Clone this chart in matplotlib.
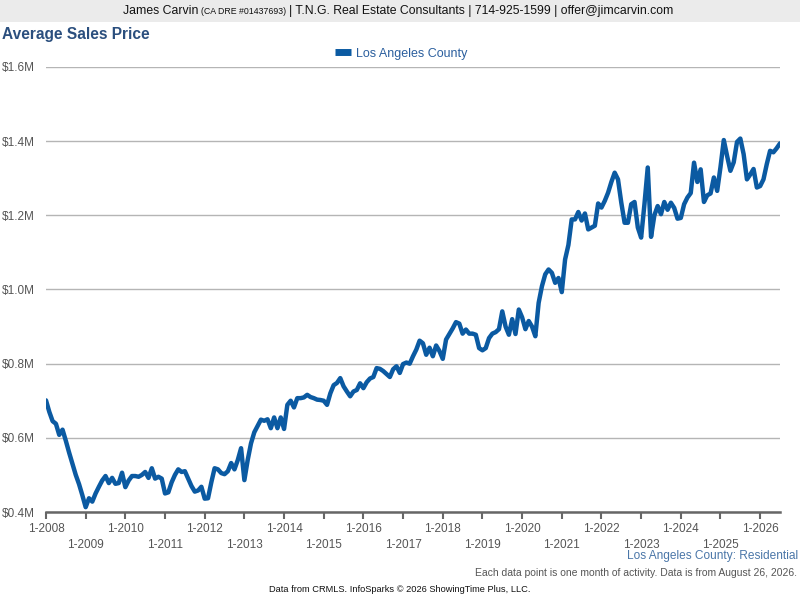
import matplotlib
matplotlib.use("Agg")
import matplotlib.pyplot as plt
from matplotlib.patches import Rectangle

plt.rcParams['font.family'] = ['Liberation Sans', 'DejaVu Sans']

# monthly average sales price ($M), Jan 2008 .. Jul 2026
y2008 = [0.701, 0.670, 0.645, 0.638, 0.608, 0.622, 0.592, 0.560, 0.530, 0.500, 0.475, 0.445]
y2009 = [0.413, 0.437, 0.428, 0.450, 0.468, 0.485, 0.497, 0.478, 0.492, 0.476, 0.478, 0.506]
y2010 = [0.467, 0.485, 0.497, 0.497, 0.495, 0.500, 0.508, 0.492, 0.518, 0.490, 0.495, 0.490]
y2011 = [0.450, 0.453, 0.480, 0.500, 0.515, 0.508, 0.510, 0.490, 0.470, 0.455, 0.458, 0.468]
y2012 = [0.436, 0.437, 0.480, 0.518, 0.515, 0.505, 0.502, 0.510, 0.532, 0.515, 0.540, 0.572]
y2013 = [0.486, 0.540, 0.585, 0.615, 0.632, 0.649, 0.646, 0.650, 0.626, 0.655, 0.626, 0.655]
y2014 = [0.624, 0.689, 0.700, 0.682, 0.707, 0.707, 0.709, 0.716, 0.710, 0.707, 0.703, 0.702]
y2015 = [0.700, 0.689, 0.720, 0.742, 0.748, 0.761, 0.739, 0.725, 0.712, 0.725, 0.729, 0.747]
y2016 = [0.734, 0.750, 0.760, 0.764, 0.788, 0.786, 0.780, 0.772, 0.764, 0.785, 0.793, 0.775]
y2017 = [0.799, 0.803, 0.800, 0.820, 0.838, 0.862, 0.855, 0.824, 0.843, 0.820, 0.849, 0.834]
y2018 = [0.813, 0.865, 0.880, 0.895, 0.912, 0.908, 0.881, 0.892, 0.881, 0.881, 0.878, 0.842]
y2019 = [0.836, 0.842, 0.869, 0.881, 0.885, 0.893, 0.941, 0.900, 0.878, 0.920, 0.880, 0.946]
y2020 = [0.925, 0.893, 0.915, 0.900, 0.874, 0.964, 1.009, 1.041, 1.054, 1.045, 1.018, 1.031]
y2021 = [0.993, 1.081, 1.120, 1.189, 1.189, 1.209, 1.186, 1.205, 1.162, 1.167, 1.172, 1.232]
y2022 = [1.221, 1.239, 1.261, 1.290, 1.315, 1.297, 1.234, 1.180, 1.180, 1.230, 1.236, 1.167]
y2023 = [1.140, 1.230, 1.329, 1.142, 1.200, 1.225, 1.203, 1.236, 1.215, 1.234, 1.220, 1.191]
y2024 = [1.193, 1.230, 1.248, 1.260, 1.342, 1.290, 1.324, 1.236, 1.254, 1.259, 1.302, 1.266]
y2025 = [1.330, 1.403, 1.360, 1.320, 1.343, 1.398, 1.407, 1.365, 1.297, 1.310, 1.325, 1.275]
y2026 = [1.279, 1.297, 1.338, 1.374, 1.370, 1.381, 1.394]

prices = (y2008 + y2009 + y2010 + y2011 + y2012 + y2013 + y2014 + y2015 + y2016
          + y2017 + y2018 + y2019 + y2020 + y2021 + y2022 + y2023 + y2024 + y2025 + y2026)
years = list(range(2008, 2027))
y_ticks = [0.4, 0.6, 0.8, 1.0, 1.2, 1.4, 1.6]
y_labels = ['$0.4M', '$0.6M', '$0.8M', '$1.0M', '$1.2M', '$1.4M', '$1.6M']

blue = '#0b5aa2'
gray_txt = '#555555'

fig = plt.figure(figsize=(8, 6), dpi=100)
renderer = fig.canvas.get_renderer()

# header band with the contact line, pieces laid out side by side and centred
fig.patches.append(Rectangle((0, 1 - 22 / 600), 1, 22 / 600, transform=fig.transFigure,
                             facecolor='#ebebeb', edgecolor='none', zorder=0))
pieces = [('James Carvin ', 8.8), ('(CA DRE #01437693) ', 6.3),
          ('| T.N.G. Real Estate Consultants | 714-925-1599 | offer@jimcarvin.com', 8.8)]
texts = []
for s, fs in pieces:
    t = fig.text(0, 1 - 11 / 600, s, fontsize=fs, va='center', ha='left', color='#111111')
    texts.append(t)
widths = [t.get_window_extent(renderer).width for t in texts]
x = 398 - sum(widths) / 2
for t, w in zip(texts, widths):
    t.set_x(x / 800)
    x += w

fig.text(0.002, 1 - 35 / 600, 'Average Sales Price', fontsize=11.2, fontweight='bold',
         color='#2b4f7e', va='center', ha='left')

ax = fig.add_axes([46 / 800, 88 / 600, 734 / 800, 445 / 600])
months = list(range(len(prices)))
ax.plot(months, prices, color=blue, lw=3.2, solid_joinstyle='round', solid_capstyle='round',
        label='Los Angeles County', zorder=3)

ax.set_xlim(0, len(prices) - 1)
ax.set_ylim(0.4, 1.6)
ax.set_yticks(y_ticks)
ax.set_yticklabels(y_labels)
ax.yaxis.grid(True, color='#b5b5b5', lw=1)
ax.set_axisbelow(True)
for s in ['left', 'right', 'top']:
    ax.spines[s].set_visible(False)
ax.spines['bottom'].set_color('#666666')
ax.spines['bottom'].set_linewidth(1.8)
ax.tick_params(axis='y', length=0, labelsize=8.5, labelcolor=gray_txt, pad=8)

xt = [12 * (y - 2008) for y in years]
xl = [('1-%d' % y) if (y - 2008) % 2 == 0 else ('\n1-%d' % y) for y in years]
ax.set_xticks(xt)
ax.set_xticklabels(xl, linespacing=1.4)
ax.tick_params(axis='x', direction='out', length=5, width=1.5, color='#666666',
               labelsize=8.5, labelcolor=gray_txt, pad=3)

leg = ax.legend(loc='lower center', bbox_to_anchor=(0.5 - 12 / 734, 1.0), frameon=False,
                fontsize=9, handlelength=1.3, handletextpad=0.4, borderaxespad=0.2)
for t in leg.get_texts():
    t.set_color('#2b5f9e')
for h in leg.get_lines():
    h.set_linewidth(5)
    h.set_solid_capstyle('butt')

fig.text(0.998, 1 - 556 / 600, 'Los Angeles County: Residential', fontsize=8.6, color='#4a76a8',
         ha='right', va='center')
fig.text(0.996, 1 - 573 / 600, 'Each data point is one month of activity. Data is from August 26, 2026.',
         fontsize=7.5, color=gray_txt, ha='right', va='center')
fig.text(0.5, 1 - 590 / 600, 'Data from CRMLS. InfoSparks \u00a9 2026 ShowingTime Plus, LLC.',
         fontsize=6.7, color='#111111', ha='center', va='center')

fig.savefig('out.png', dpi=100)
